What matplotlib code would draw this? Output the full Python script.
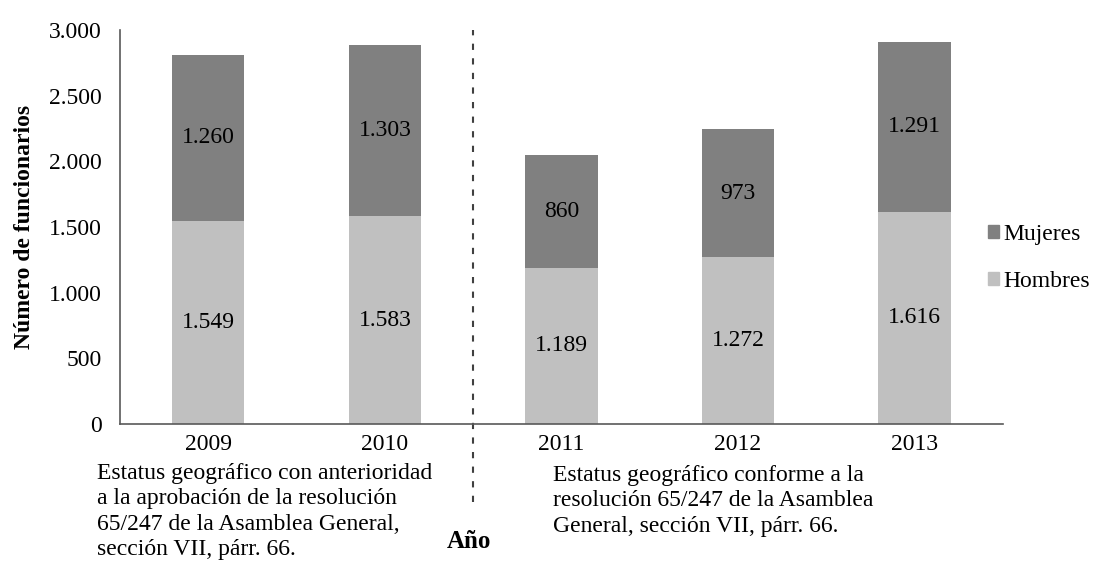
import matplotlib.pyplot as plt
from matplotlib.patches import Patch

# staff by year and gender
years = ['2009', '2010', '2011', '2012', '2013']
hombres = [1549, 1583, 1189, 1272, 1616]
mujeres = [1260, 1303, 860, 973, 1291]
yticks = [0, 500, 1000, 1500, 2000, 2500, 3000]

note_left = ("Estatus geográfico con anterioridad\n"
             "a la aprobación de la resolución\n"
             "65/247 de la Asamblea General,\n"
             "sección VII, párr. 66.")
note_right = ("Estatus geográfico conforme a la\n"
              "resolución 65/247 de la Asamblea\n"
              "General, sección VII, párr. 66.")

c_h = '#c0c0c0'
c_m = '#808080'
fs = 17


def fmt(v):
    return f"{v:,}".replace(',', '.')


def main():
    plt.rcParams['font.family'] = ['Liberation Serif', 'DejaVu Serif']
    fig = plt.figure(figsize=(10.96, 5.69), dpi=100)
    ax = fig.add_axes([0.1095, 0.2548, 0.8055, 0.6925])

    x = list(range(len(years)))
    w = 0.41
    ax.bar(x, hombres, width=w, color=c_h)
    ax.bar(x, mujeres, width=w, bottom=hombres, color=c_m)

    for i in x:
        ax.text(i, hombres[i] / 2, fmt(hombres[i]), ha='center', va='center', fontsize=fs)
        ax.text(i, hombres[i] + mujeres[i] / 2, fmt(mujeres[i]), ha='center', va='center', fontsize=fs)

    ax.set_xlim(-0.5, 4.5)
    ax.set_ylim(0, 3000)
    ax.set_xticks(x)
    ax.set_xticklabels(years, fontsize=fs)
    ax.set_yticks(yticks)
    ax.set_yticklabels([fmt(v) for v in yticks], fontsize=fs)
    ax.tick_params(length=0)
    ax.tick_params(axis='y', pad=13)
    ax.tick_params(axis='x', pad=7)
    for s in ['top', 'right']:
        ax.spines[s].set_visible(False)
    for s in ['left', 'bottom']:
        ax.spines[s].set_color('#595959')
        ax.spines[s].set_linewidth(1.2)

    ax.set_ylabel("Número de funcionarios", fontsize=fs, fontweight='bold', labelpad=10)

    # divider between the two periods
    ax.axvline(1.5, ymin=-0.198, ymax=1.0, color='#404040', lw=1.5,
               linestyle=(0, (3, 4)), clip_on=False)

    fig.text(97 / 1096, 1 - 463 / 569, note_left, ha='left', va='top',
             fontsize=fs, linespacing=1.27)
    fig.text(553 / 1096, 1 - 465 / 569, note_right, ha='left', va='top',
             fontsize=fs, linespacing=1.27)
    fig.text(469 / 1096, 1 - 541 / 569, "Año", ha='center', va='center',
             fontsize=18, fontweight='bold')

    handles = [Patch(color=c_m, label='Mujeres'), Patch(color=c_h, label='Hombres')]
    fig.legend(handles=handles, loc='center left', bbox_to_anchor=(988 / 1096, 1 - 258 / 569),
               frameon=False, fontsize=fs, handlelength=0.45, handleheight=0.45,
               handletextpad=0.2, labelspacing=1.1, borderaxespad=0, borderpad=0)

    fig.savefig("out.png", dpi=100)


if __name__ == "__main__":
    main()
